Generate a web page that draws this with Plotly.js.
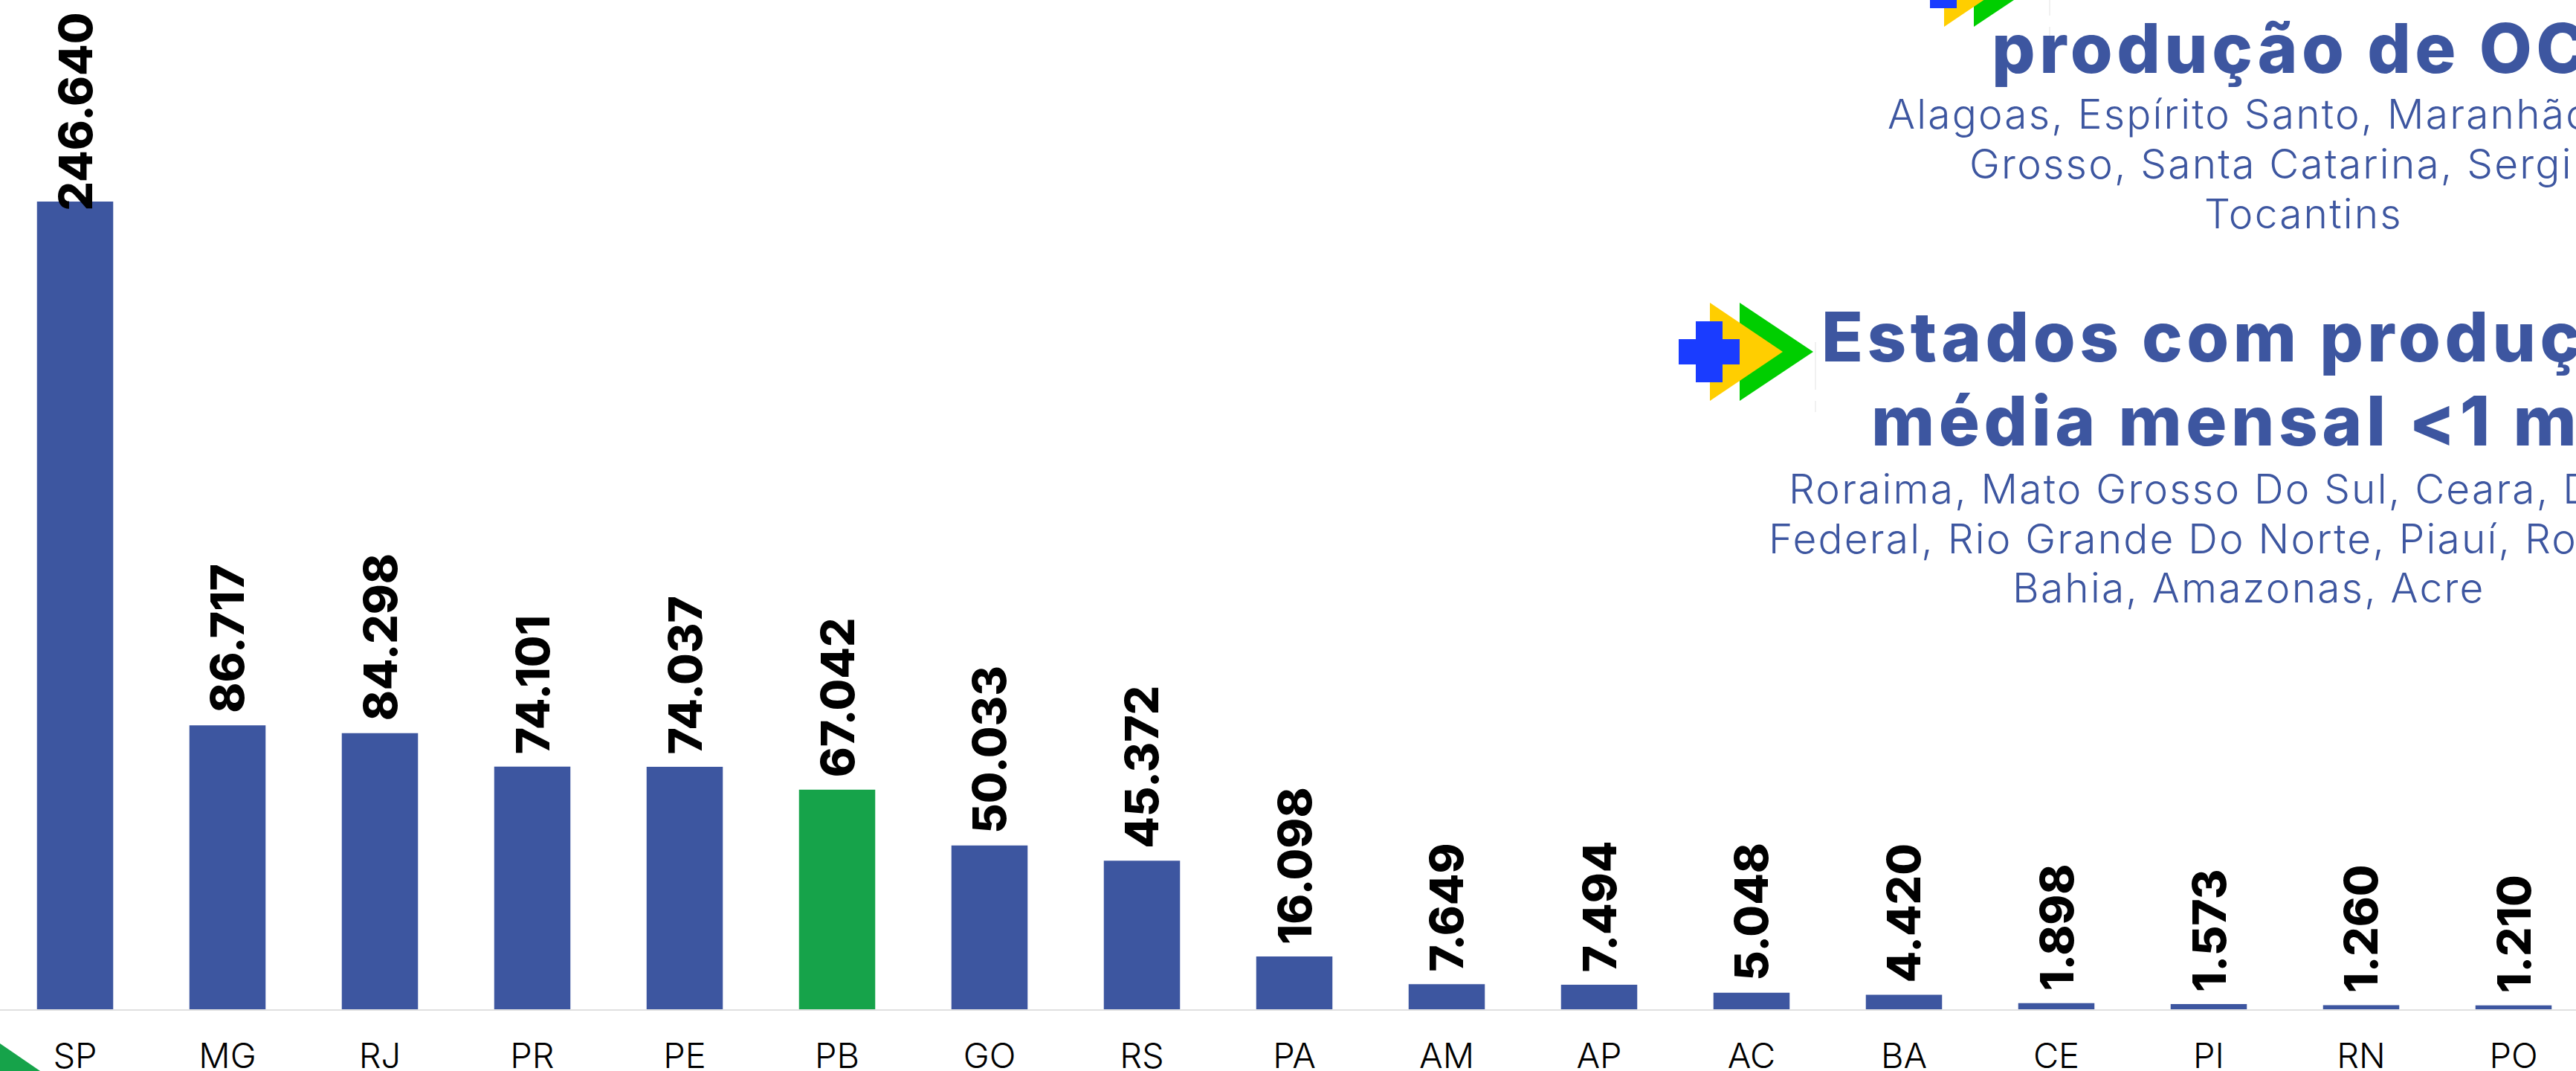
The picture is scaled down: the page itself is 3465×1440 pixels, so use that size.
<!DOCTYPE html>
<html><head><meta charset="utf-8">
<script src="https://cdn.plot.ly/plotly-3.0.1.min.js"></script>
<style>html,body{margin:0;padding:0;background:#fff;overflow:hidden}
text[style*="font-size: 92px"]{letter-spacing:5.5px}
text[style*="font-size: 55px"]{letter-spacing:2.2px}</style></head>
<body><div id="chart" style="width:3465px;height:1440px"></div>
<script>
const categories=["SP","MG","RJ","PR","PE","PB","GO","RS","PA","AM","AP","AC","BA","CE","PI","RN","PO"];
const values=[246640,86717,84298,74101,74037,67042,50033,45372,16098,7649,7494,5048,4420,1898,1573,1260,1210];
const labels=["246.640","86.717","84.298","74.101","74.037","67.042","50.033","45.372","16.098","7.649","7.494","5.048","4.420","1.898","1.573","1.260","1.210"];
const highlighted="PB";
const titleLines=[["produção de OCI",3098,97],["Estados com produção",3025,485],["média mensal <1 mil",3025,598]];
const bodyLines=[["Alagoas, Espírito Santo, Maranhão, Mato",3098,173],["Grosso, Santa Catarina, Sergipe,",3098,240],["Tocantins",3098,307],
["Roraima, Mato Grosso Do Sul, Ceara, Distrito",3025,677],["Federal, Rio Grande Do Norte, Piauí, Rondônia,",3025,744],["Bahia, Amazonas, Acre",3025,810]];
const BLUE="#3D56A0",GREEN="#16A34A",FONT="Inter, 'Open Sans', sans-serif";
const W=3465,H=1440,BASE=1357;
const px=x=>x/W, py=y=>1-y/H;
const TITLE_SIZE=92, BODY_SIZE=55;

const shapes=[];
function poly(pts,color){shapes.push({type:"path",xref:"paper",yref:"paper",layer:"above",
  path:"M"+pts.map(p=>px(p[0])+","+py(p[1])).join("L")+"Z",fillcolor:color,line:{width:0}});}
function logo(dx,dy){
  const P=(x,y)=>[x+dx,y+dy];
  poly([P(2340,407),P(2439,473),P(2340,539)],"#00CE00");
  poly([P(2300,407),P(2398,473),P(2300,539)],"#FFCE00");
  poly([P(2281,432),P(2317,432),P(2317,456),P(2340,456),P(2340,490),P(2317,490),P(2317,514),P(2281,514),P(2281,490),P(2258,490),P(2258,456),P(2281,456)],"#1A3CFF");
  [[460,524],[539,554]].forEach(s=>shapes.push({type:"line",xref:"paper",yref:"paper",x0:px(2442+dx),x1:px(2442+dx),y0:py(s[0]+dy),y1:py(s[1]+dy),line:{color:"#E3E3E3",width:1}}));
}
logo(0,0);logo(315,-503);
poly([[0,1403],[54,1440],[0,1440]],GREEN);

const annotations=[];
categories.forEach((c,i)=>annotations.push({x:c,y:values[i],xref:"x",yref:"y",text:labels[i],textangle:-90,showarrow:false,
  xanchor:"center",yanchor:"bottom",yshift:i===0?-13:16,font:{family:FONT,size:62,color:"#000",weight:800},borderpad:0,borderwidth:0}));
function line(t,size,weight,asc){annotations.push({xref:"paper",yref:"paper",x:px(t[1]),y:py(t[2]+asc),text:t[0],showarrow:false,
  xanchor:"center",yanchor:"bottom",font:{family:FONT,size:size,color:BLUE,weight:weight}});}
titleLines.forEach(t=>line(t,TITLE_SIZE,800,TITLE_SIZE*0.27));
bodyLines.forEach(t=>line(t,BODY_SIZE,300,BODY_SIZE*0.27));

Plotly.newPlot("chart",[{type:"bar",x:categories,y:values,width:0.5,
  marker:{color:categories.map(c=>c===highlighted?GREEN:BLUE),line:{width:0}},hoverinfo:"skip"}],
{width:W,height:H,margin:{l:0,r:0,t:0,b:0,pad:0},paper_bgcolor:"#fff",plot_bgcolor:"#fff",showlegend:false,
 xaxis:{type:"category",categoryorder:"array",categoryarray:categories,range:[-101/205,(W-101)/205],domain:[0,1],
   showgrid:false,zeroline:false,showline:true,linecolor:"#E0E0E0",linewidth:2,ticks:"",ticklabelstandoff:21,
   tickfont:{family:FONT,size:47,color:"#000",weight:300},automargin:false,fixedrange:true},
 yaxis:{range:[0,BASE*227.1],domain:[1-BASE/H,1],visible:false,fixedrange:true},
 shapes:shapes,annotations:annotations},{displayModeBar:false,staticPlot:true});
</script></body></html>
